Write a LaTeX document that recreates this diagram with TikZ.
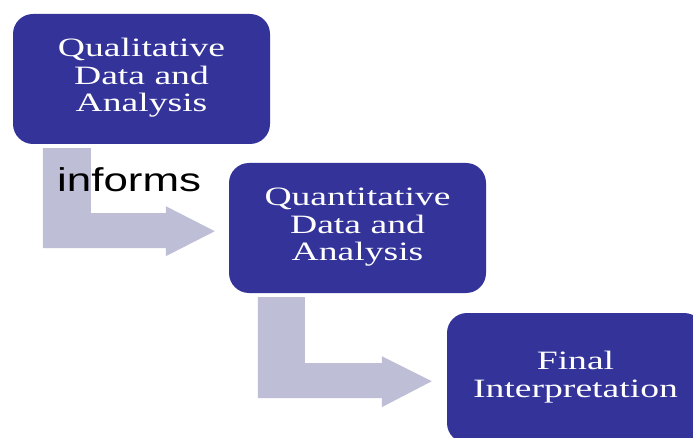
\documentclass[tikz,border=0pt]{standalone}
\usepackage{fontspec}
\setmainfont{Liberation Serif}
\newfontfamily\armfont{Liberation Sans}
\definecolor{boxblue}{RGB}{51,51,153}
\definecolor{arrowgray}{RGB}{190,190,214}
\newcommand{\widetext}[2]{\scalebox{#1}[1]{\begin{tabular}{@{}c@{}}#2\end{tabular}}}
\begin{document}
\begin{tikzpicture}[x=1pt,y=-1pt,
  stagebox/.style={draw=none, fill=boxblue, rounded corners=20pt, minimum width=257pt,
    minimum height=130pt, inner sep=0pt, text=white, align=center,
    font=\fontsize{26.5}{27.5}\selectfont},
  bentarrow/.style={fill=arrowgray, draw=none}]
\useasboundingbox (0,0) rectangle (693,438);
\clip (0,0) rectangle (693,438);
\node[stagebox] (q1) at (141.5,79) {\widetext{1.42}{Qualitative\\Data and\\Analysis}};
\node[stagebox] (q2) at (357.5,228) {\widetext{1.42}{Quantitative\\Data and\\Analysis}};
\node[stagebox] (q3) at (575.5,378) {\widetext{1.42}{Final\\Interpretation}};
\begin{scope}[shift={(q1.south west)}]
  \fill[bentarrow] (30,4) -- (78,4) -- (78,69) -- (153,69) -- (153,62) -- (202,87)
    -- (153,112) -- (153,104) -- (30,104) -- cycle;
\end{scope}
\begin{scope}[shift={(q2.south west)}]
  \fill[bentarrow] (29,4) -- (76,4) -- (76,70) -- (153,70) -- (153,63) -- (203,88)
    -- (153,114) -- (153,105) -- (29,105) -- cycle;
\end{scope}
\node[anchor=base west, inner sep=0pt, font=\armfont\fontsize{33}{36}\selectfont]
  (lab) at (57,192) {\scalebox{1.33}[1]{informs}};
\end{tikzpicture}
\end{document}
